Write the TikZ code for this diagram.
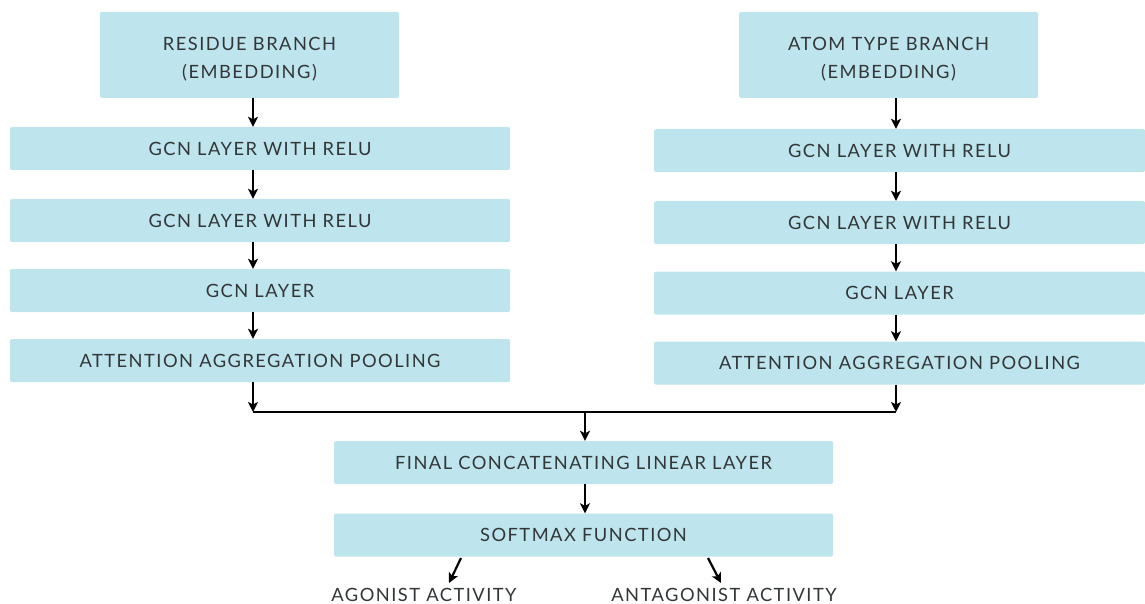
\documentclass[tikz,border=0pt]{standalone}
\usepackage{fontspec}
\setmainfont{Lato}[LetterSpace=8]
\usetikzlibrary{arrows.meta}
\definecolor{boxfill}{RGB}{190,229,238}
\definecolor{txt}{RGB}{50,54,56}
\tikzset{
  blk/.style={fill=boxfill, draw=none, rounded corners=1.5pt, inner sep=0pt,
    text=txt, font=\fontsize{18.3}{28}\selectfont, align=center},
  arr/.style={draw=black, line width=2.2pt, -{Stealth[length=10pt,width=10pt,inset=2.5pt]}},
  lnk/.style={draw=black, line width=2.2pt},
  lbl/.style={text=txt, font=\fontsize{18.3}{20}\selectfont, inner sep=0pt}
}
\begin{document}
\begin{tikzpicture}[x=1pt,y=-1pt]
\useasboundingbox (0,0) rectangle (1145,604);
% left branch
\node[blk, minimum width=299pt, minimum height=86pt] (res) at (249.5,55) {\rule{0pt}{21pt}RESIDUE BRANCH\\(EMBEDDING)};
\node[blk, minimum width=500pt, minimum height=43pt] (g1L) at (260,148.5) {GCN LAYER WITH RELU};
\node[blk, minimum width=500pt, minimum height=43pt] (g2L) at (260,220.5) {GCN LAYER WITH RELU};
\node[blk, minimum width=500pt, minimum height=43pt] (g3L) at (260,290.5) {GCN LAYER};
\node[blk, minimum width=500pt, minimum height=43pt] (attL) at (260,360.5) {ATTENTION AGGREGATION POOLING};
% right branch
\node[blk, minimum width=299pt, minimum height=86pt] (atom) at (888.5,55) {\rule{0pt}{21pt}ATOM TYPE BRANCH\\(EMBEDDING)};
\node[blk, minimum width=491pt, minimum height=43pt] (g1R) at (899.5,150.5) {GCN LAYER WITH RELU};
\node[blk, minimum width=491pt, minimum height=43pt] (g2R) at (899.5,222.5) {GCN LAYER WITH RELU};
\node[blk, minimum width=491pt, minimum height=43pt] (g3R) at (899.5,293) {GCN LAYER};
\node[blk, minimum width=491pt, minimum height=43pt] (attR) at (899.5,363) {ATTENTION AGGREGATION POOLING};
% merge
\node[blk, minimum width=499pt, minimum height=43pt] (fin) at (583.5,462.5) {FINAL CONCATENATING LINEAR LAYER};
\node[blk, minimum width=499pt, minimum height=43pt] (soft) at (583.5,535) {SOFTMAX FUNCTION};
\node[lbl] (agon) at (424,595) {AGONIST ACTIVITY};
\node[lbl] (antag) at (724,595) {ANTAGONIST ACTIVITY};
% coordinates
\coordinate (axL) at (253,0);
\coordinate (axR) at (896,0);
\coordinate (jL) at (253,412);
\coordinate (jR) at (896,412);
\coordinate (jM) at (585,412);
\coordinate (sL) at (461,558);
\coordinate (eL) at (449,583);
\coordinate (sR) at (708,558);
\coordinate (eR) at (721,583);
% left arrows
\draw[arr] (res.south -| axL) -- (g1L.north -| axL);
\draw[arr] (g1L.south -| axL) -- (g2L.north -| axL);
\draw[arr] (g2L.south -| axL) -- (g3L.north -| axL);
\draw[arr] (g3L.south -| axL) -- (attL.north -| axL);
\draw[arr] (attL.south -| axL) -- (jL);
% right arrows
\draw[arr] (atom.south -| axR) -- (g1R.north -| axR);
\draw[arr] (g1R.south -| axR) -- (g2R.north -| axR);
\draw[arr] (g2R.south -| axR) -- (g3R.north -| axR);
\draw[arr] (g3R.south -| axR) -- (attR.north -| axR);
\draw[arr] (attR.south -| axR) -- (jR);
% merge line
\draw[lnk] (jL) -- (jR);
\draw[arr] (jM) -- (fin.north -| jM);
\draw[arr] (fin.south -| jM) -- (soft.north -| jM);
% outputs
\draw[arr] (sL) -- (eL);
\draw[arr] (sR) -- (eR);
\end{tikzpicture}
\end{document}
